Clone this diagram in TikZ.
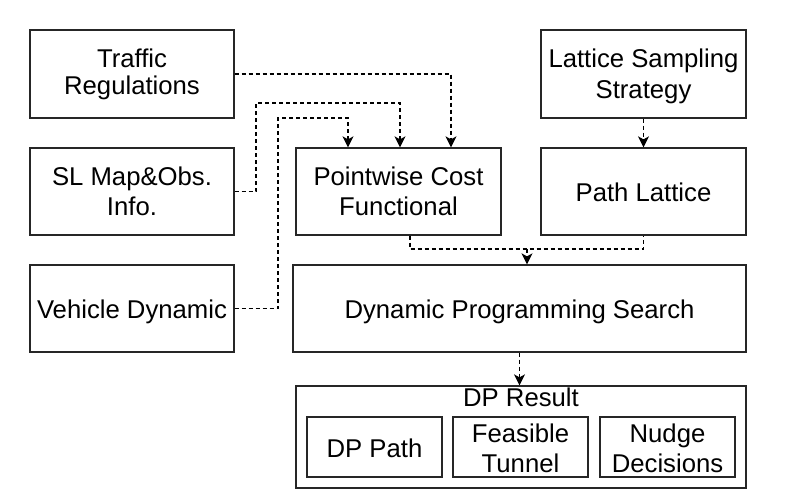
\documentclass[tikz,border=0pt]{standalone}
\usepackage{fontspec}
\setmainfont{Liberation Sans}
\usetikzlibrary{arrows.meta,calc}
\newcommand\myline[3]{\vrule width 0pt height #1pt depth #2pt\smash{#3}}
\begin{document}
\begin{tikzpicture}[x=1pt,y=-1pt,
  box/.style={draw=black!85,line width=1.3pt,inner sep=0pt,align=center,font=\fontsize{25.7}{30.5}\selectfont},
  dl/.style={line width=1.2pt,dash pattern=on 4pt off 3pt},
  arr/.style={dl,-{Stealth[length=11pt,width=11pt,inset=3pt]}}]
\fill[white] (0,0) rectangle (794,502);
\useasboundingbox (0,0) rectangle (794,502);
\node[box,minimum width=204pt,minimum height=88pt,font=\fontsize{25.7}{27}\selectfont] (traffic) at (132,74)
  {\myline{20}{5.6}{Traffic}\\\myline{20}{5.6}{Regulations}};
\node[box,minimum width=204pt,minimum height=87pt] (slmap) at (132,191.5)
  {\myline{22}{3.9}{SL Map\&Obs.}\\\myline{22}{3.9}{Info.}};
\node[box,minimum width=204pt,minimum height=87pt] (vehicle) at (132,308.5)
  {\myline{21}{1}{Vehicle Dynamic}};
\node[box,minimum width=205pt,minimum height=87pt] (pointwise) at (398.5,191.5)
  {\myline{22}{3.9}{Pointwise Cost}\\\myline{22}{3.9}{Functional}};
\node[box,minimum width=205pt,minimum height=88pt] (lattice) at (643.5,74)
  {\myline{22}{3.9}{Lattice Sampling}\\\myline{22}{3.9}{Strategy}};
\node[box,minimum width=205pt,minimum height=87pt] (pathlat) at (643.5,191.5)
  {\myline{21}{1}{Path Lattice}};
\node[box,minimum width=453pt,minimum height=87pt] (dps) at (519.5,308.5)
  {\myline{21}{1}{Dynamic Programming Search}};
\node[box,minimum width=450pt,minimum height=102pt] (result) at (521,437) {};
\node[font=\fontsize{25.7}{30}\selectfont,inner sep=0pt,anchor=base] (resultlabel) at (521,406.7) {DP Result};
\node[box,minimum width=135pt,minimum height=60pt] (dppath) at (374.5,447)
  {\myline{21}{1}{DP Path}};
\node[box,minimum width=135pt,minimum height=60pt,font=\fontsize{25.7}{30}\selectfont] (feasible) at (520.5,447)
  {\myline{24}{2.6}{Feasible}\\\myline{24}{2.6}{Tunnel}};
\node[box,minimum width=135pt,minimum height=60pt,font=\fontsize{25.7}{30}\selectfont] (nudge) at (667.5,447)
  {\myline{24}{2.6}{Nudge}\\\myline{24}{2.6}{Decisions}};
% connectors into pointwise
\coordinate (t1) at (451,74);
\draw[arr] (traffic.east) -- (t1) -- (t1 |- pointwise.north);
\coordinate (s1) at (256,191.5);
\coordinate (s2) at (256,103);
\coordinate (s3) at (400,103);
\draw[arr] (slmap.east) -- (s1) -- (s2) -- (s3) -- (s3 |- pointwise.north);
\coordinate (v1) at (278,308.5);
\coordinate (v2) at (278,118);
\coordinate (v3) at (348,118);
\draw[arr] (vehicle.east) -- (v1) -- (v2) -- (v3) -- (v3 |- pointwise.north);
% lattice to path lattice
\draw[arr] (lattice.south) -- (pathlat.north);
% merge into dps
\coordinate (m) at (527,249);
\coordinate (p1) at (410,235);
\draw[dl] (p1 |- pointwise.south) |- (m) -| (pathlat.south);
\draw[arr] (m) -- (m |- dps.north);
% dps to result
\draw[arr] (dps.south) -- (dps.south |- result.north);
\end{tikzpicture}
\end{document}
